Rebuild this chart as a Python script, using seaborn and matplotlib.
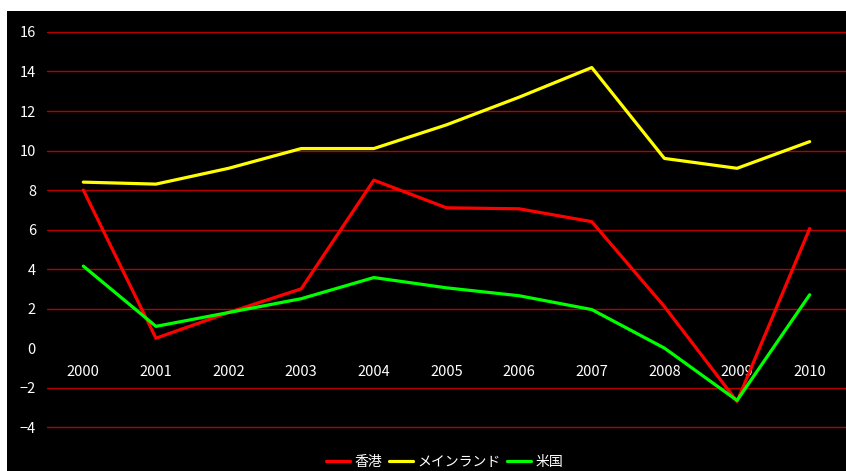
import matplotlib
matplotlib.use("Agg")
import matplotlib.pyplot as plt
import seaborn as sns
import pandas as pd
from matplotlib.patches import Rectangle

years = [2000, 2001, 2002, 2003, 2004, 2005, 2006, 2007, 2008, 2009, 2010]
hongkong = [8.0, 0.5, 1.8, 3.0, 8.5, 7.1, 7.05, 6.4, 2.1, -2.7, 6.05]
mainland = [8.4, 8.3, 9.1, 10.1, 10.1, 11.3, 12.7, 14.2, 9.6, 9.1, 10.45]
usa = [4.15, 1.1, 1.8, 2.5, 3.57, 3.05, 2.65, 1.95, 0.0, -2.65, 2.7]
names = ["香港", "メインランド", "米国"]
colors = ["#ff0000", "#ffff00", "#00ff00"]

df = pd.DataFrame({
    "year": years * 3,
    "value": hongkong + mainland + usa,
    "region": [names[0]] * 11 + [names[1]] * 11 + [names[2]] * 11,
})

sns.set_style("dark")
plt.rcParams["font.family"] = ["Noto Sans CJK JP", "DejaVu Sans"]

fig = plt.figure(figsize=(8.46, 4.71), dpi=100)
fig.patch.set_facecolor("white")
fig.add_artist(Rectangle((7 / 846, 0), 1, 1 - 11 / 471, transform=fig.transFigure,
                         facecolor="black", edgecolor="none", zorder=-5))

ax = fig.add_axes([47 / 846, 1 - 437 / 471, 799 / 846, (437 - 22.1) / 471])
ax.set_zorder(2)
ax.set_facecolor("black")

sns.lineplot(data=df, x="year", y="value", hue="region", palette=colors,
             linewidth=2.3, ax=ax, zorder=3)

ax.set_xlim(1999.5, 2010.5)
ax.set_ylim(-4.5, 16.5)
ax.set_yticks(range(-4, 17, 2))
ax.set_xticks(years)
ax.set_xlabel("")
ax.set_ylabel("")

ax.grid(False)
for v in range(-4, 17, 2):
    if v != 0:
        ax.axhline(v, color="#b80000", linewidth=1.0, zorder=1)

for s in ["top", "right", "left"]:
    ax.spines[s].set_visible(False)
ax.spines["bottom"].set_position(("data", 0))
ax.spines["bottom"].set_visible(False)

ax.tick_params(axis="y", colors="white", length=0, pad=8, labelsize=10.5)
ax.tick_params(axis="x", colors="white", length=0, pad=12.5, labelsize=10.5)

leg = ax.legend(loc="center", bbox_to_anchor=(0.5 - 2 / 799, -0.06), ncol=3,
                frameon=False, fontsize=10, handlelength=1.75, columnspacing=0.45,
                handletextpad=0.3)
for t in leg.get_texts():
    t.set_color("white")

fig.savefig("out.png", dpi=100, facecolor=fig.get_facecolor())
